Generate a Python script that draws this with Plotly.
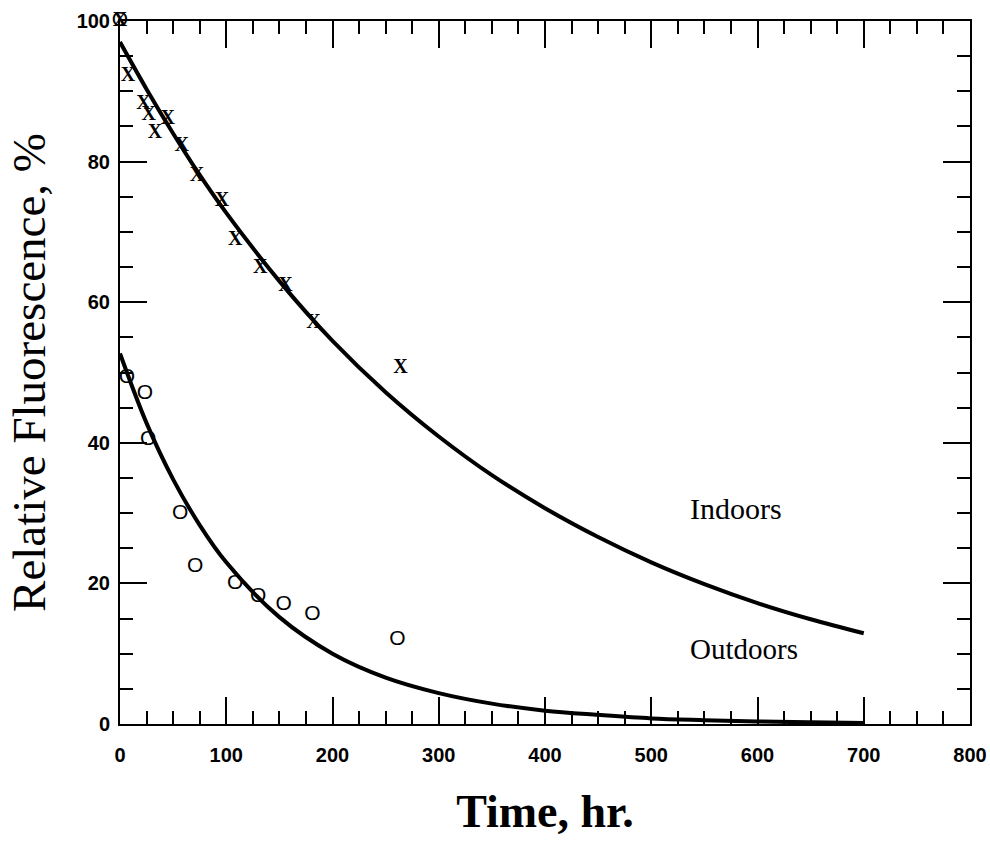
import plotly.graph_objects as go

indoor_t = [0, 7.5, 22, 27, 33, 45, 58, 72.5, 96, 108.5, 132, 155.7, 182, 264]
indoor_f = [100, 92.2, 88.2, 86.7, 84.0, 86.0, 82.2, 78.0, 74.4, 68.9, 64.8, 62.3, 57.0, 50.6]

outdoor_t = [0, 6.4, 23.5, 26.6, 56.6, 70.8, 108.5, 130, 154, 181, 261]
outdoor_f = [100, 49.2, 47.0, 40.4, 29.9, 22.4, 20.0, 18.1, 16.9, 15.5, 12.0]

# Fitted curves
curve_t = [0, 25, 50, 75, 100, 150, 200, 250, 300, 350, 400, 450, 500, 550, 600, 650, 700]
indoor_curve = [97.0, 90.3, 84.0, 78.1, 72.7, 63.0, 54.5, 47.2, 40.9, 35.4, 30.7, 26.6, 23.0, 19.9, 17.2, 14.9, 12.9]
outdoor_curve = [52.7, 42.8, 34.8, 28.3, 23.0, 15.2, 10.0, 6.6, 4.4, 2.9, 1.9, 1.3, 0.8, 0.55, 0.36, 0.24, 0.16]

x_ticks = [0, 100, 200, 300, 400, 500, 600, 700, 800]
y_ticks = [0, 20, 40, 60, 80, 100]

fig = go.Figure()

fig.add_trace(go.Scatter(x=curve_t, y=indoor_curve, mode="lines", line=dict(color="black", width=4, shape="spline"),
                         showlegend=False, hoverinfo="skip"))
fig.add_trace(go.Scatter(x=curve_t, y=outdoor_curve, mode="lines", line=dict(color="black", width=4, shape="spline"),
                         showlegend=False, hoverinfo="skip"))

fig.add_trace(go.Scatter(x=indoor_t, y=indoor_f, mode="text", text=["X"] * len(indoor_t),
                         textposition="middle center", cliponaxis=False,
                         textfont=dict(family="Liberation Serif", size=20, color="black", weight="bold"),
                         showlegend=False))
fig.add_trace(go.Scatter(x=outdoor_t, y=outdoor_f, mode="text", text=["O"] * len(outdoor_t),
                         textposition="middle center", cliponaxis=False,
                         textfont=dict(family="Liberation Sans", size=21, color="black"),
                         showlegend=False))

fig.add_annotation(x=535, y=30.6, xref="x", yref="y", text="Indoors", showarrow=False, xanchor="left",
                   font=dict(family="Liberation Serif", size=30, color="black"))
fig.add_annotation(x=535, y=10.7, xref="x", yref="y", text="Outdoors", showarrow=False, xanchor="left",
                   font=dict(family="Liberation Serif", size=29, color="black"))

axis_common = dict(
    showgrid=False, zeroline=False, showline=True, linecolor="black", linewidth=2,
    mirror="ticks", ticks="inside", ticklen=27, tickwidth=2, tickcolor="black",
    tickfont=dict(family="Liberation Sans", size=20, color="black", weight="bold"),
)

fig.update_xaxes(range=[0, 800], tickvals=x_ticks, ticktext=[str(v) for v in x_ticks],
                 minor=dict(dtick=25, tick0=0, ticks="inside", ticklen=13, tickwidth=2, tickcolor="black"),
                 title=dict(text="Time, hr.", font=dict(family="Liberation Serif", size=46, color="black", weight="bold"),
                            standoff=30),
                 ticklabelstandoff=12,
                 **axis_common)
fig.update_yaxes(range=[0, 100], tickvals=y_ticks, ticktext=[str(v) for v in y_ticks],
                 minor=dict(dtick=5, tick0=0, ticks="inside", ticklen=13, tickwidth=2, tickcolor="black"),
                 title=dict(text="Relative Fluorescence, %", font=dict(family="Liberation Serif", size=47, color="black"),
                            standoff=16),
                 ticklabelstandoff=4,
                 **axis_common)

fig.update_layout(
    width=990, height=842,
    margin=dict(l=120, r=20, t=21, b=118, autoexpand=False),
    paper_bgcolor="white", plot_bgcolor="white",
)

fig.write_html("out.html")
